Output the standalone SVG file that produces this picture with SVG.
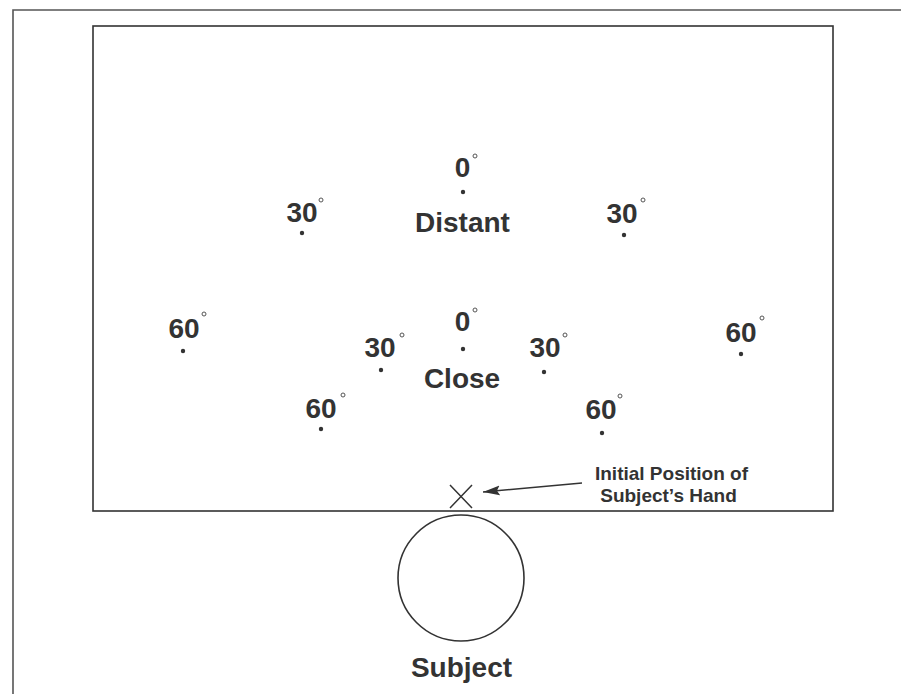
<svg xmlns="http://www.w3.org/2000/svg" width="901" height="694" viewBox="0 0 901 694">
<style>
.t{font-family:"Liberation Sans",Arial,sans-serif;font-weight:bold;fill:#333;text-anchor:middle}
.n{font-size:28px}
.lab{font-size:19px}
.deg{fill:none;stroke:#555;stroke-width:1}
.dot{fill:#333}
.ln{fill:none;stroke:#333;stroke-width:1.6}
</style>
<defs>
<marker id="ah" markerWidth="18" markerHeight="12" refX="17" refY="6" orient="auto" markerUnits="userSpaceOnUse">
<path d="M0,1 L17,6 L0,11 L3,6 Z" fill="#333"/>
</marker>
</defs>
<rect width="901" height="694" fill="#fff"/>
<g id="frame">
<path d="M13,694 V10 H901" fill="none" stroke="#555" stroke-width="1.6"/>
</g>
<g id="field">
<rect x="93" y="26" width="740" height="485" class="ln"/>
</g>
<g id="distant-0">
<text class="t n" x="462.5" y="177">0</text><circle class="deg" cx="475" cy="156" r="2"/><circle class="dot" cx="463" cy="192" r="2.2"/>
</g>
<g id="distant-label"><text class="t n" x="462.5" y="232">Distant</text></g>
<g id="distant-30-left">
<text class="t n" x="302" y="222">30</text><circle class="deg" cx="321" cy="200" r="2"/><circle class="dot" cx="302" cy="233" r="2.2"/>
</g>
<g id="distant-30-right">
<text class="t n" x="622" y="223">30</text><circle class="deg" cx="643" cy="200" r="2"/><circle class="dot" cx="624" cy="235" r="2.2"/>
</g>
<g id="distant-60-left">
<text class="t n" x="184" y="338">60</text><circle class="deg" cx="204" cy="314" r="2"/><circle class="dot" cx="183" cy="351" r="2.2"/>
</g>
<g id="distant-60-right">
<text class="t n" x="741" y="342">60</text><circle class="deg" cx="762" cy="318" r="2"/><circle class="dot" cx="741" cy="354" r="2.2"/>
</g>
<g id="close-0">
<text class="t n" x="462.5" y="331">0</text><circle class="deg" cx="475" cy="310" r="2"/><circle class="dot" cx="463" cy="349" r="2.2"/>
</g>
<g id="close-label"><text class="t n" x="462" y="388">Close</text></g>
<g id="close-30-left">
<text class="t n" x="380" y="357">30</text><circle class="deg" cx="402" cy="335" r="2"/><circle class="dot" cx="381" cy="370" r="2.2"/>
</g>
<g id="close-30-right">
<text class="t n" x="545" y="357">30</text><circle class="deg" cx="565" cy="335" r="2"/><circle class="dot" cx="544" cy="372" r="2.2"/>
</g>
<g id="close-60-left">
<text class="t n" x="321" y="418">60</text><circle class="deg" cx="343" cy="395" r="2"/><circle class="dot" cx="321" cy="429" r="2.2"/>
</g>
<g id="close-60-right">
<text class="t n" x="601" y="419">60</text><circle class="deg" cx="620" cy="396" r="2"/><circle class="dot" cx="602" cy="433" r="2.2"/>
</g>
<g id="hand">
<path d="M450,485 L472,508 M472,485 L450,508" stroke="#333" stroke-width="1.5" fill="none"/>
</g>
<g id="hand-label">
<text class="t lab" x="671.5" y="480">Initial Position of</text>
<text class="t lab" x="668.5" y="502">Subject’s Hand</text>
</g>
<g id="connectors">
<line x1="582" y1="483" x2="483" y2="492" stroke="#333" stroke-width="1.6" marker-end="url(#ah)"/>
</g>
<g id="subject">
<circle cx="461" cy="578" r="63" class="ln"/>
<text class="t n" x="461.5" y="677">Subject</text>
</g>
</svg>
